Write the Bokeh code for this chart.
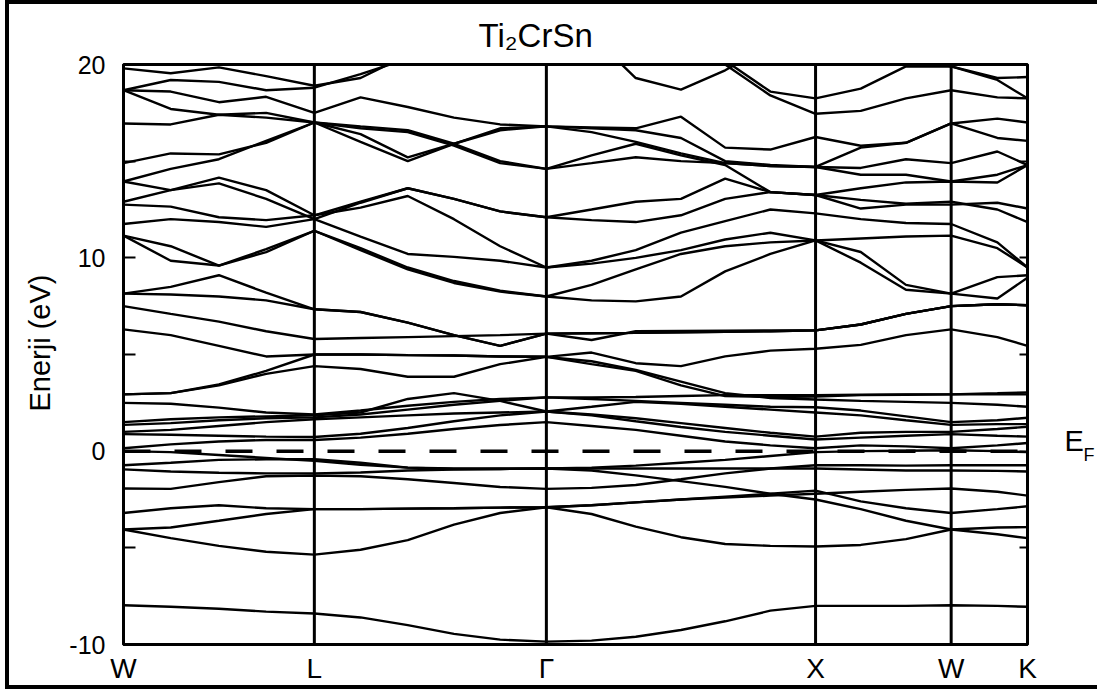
from bokeh.plotting import figure
from bokeh.models import Range1d, LinearAxis, FixedTicker, Span, Title
from bokeh.embed import file_html
from bokeh.resources import INLINE

# ---- k-path (distance units along W-L-G-X-W-K path) ----
k_path = [0, 47, 95, 142, 190, 236, 283, 329, 375, 421, 466, 510, 555, 599, 644, 689, 734, 779, 824, 870, 900]
sym_k = [0, 190, 421, 689, 824, 900]
sym_labels = ["W", "L", "Γ", "X", "W", "K"]
fermi_level = 0.0
y_ticks = [-10, 0, 10, 20]
y_minor = [-5, 5, 15]

# ---- band energies (eV) at each k_path point ----
band_b1 = [-7.97, -8.05, -8.15, -8.3, -8.4, -8.6, -9.0, -9.45, -9.75, -9.85, -9.8, -9.6, -9.25, -8.8, -8.25, -8.0, -8.0, -8.0, -7.97, -8.0, -8.05]
band_b2 = [-4.05, -4.5, -4.9, -5.2, -5.35, -5.1, -4.6, -3.8, -3.2, -2.9, -3.25, -3.9, -4.45, -4.8, -4.9, -4.93, -4.85, -4.55, -4.05, -4.3, -4.5]
band_b3 = [-4.05, -3.95, -3.6, -3.25, -3.0, -3.0, -2.97, -2.95, -2.92, -2.9, -2.8, -2.65, -2.5, -2.4, -2.3, -2.2, -2.1, -2.0, -1.93, -2.1, -2.3]
band_b4 = [-3.2, -2.95, -2.8, -2.95, -3.0, -3.0, -2.97, -2.95, -2.92, -2.9, -2.8, -2.65, -2.5, -2.35, -2.2, -2.04, -2.6, -2.95, -3.2, -3.0, -2.85]
band_b5 = [-1.93, -1.95, -1.6, -1.3, -1.26, -1.3, -1.45, -1.65, -1.85, -1.95, -1.9, -1.75, -1.45, -1.15, -0.9, -0.73, -0.73, -0.75, -0.73, -0.73, -0.73]
band_b6 = [-0.94, -1.05, -1.12, -1.15, -1.15, -1.1, -1.0, -0.95, -0.92, -0.9, -1.0, -1.25, -1.55, -1.85, -2.2, -2.5, -3.0, -3.6, -4.05, -3.95, -3.93]
band_b7 = [-0.73, -0.6, -0.45, -0.42, -0.42, -0.6, -0.85, -0.92, -0.92, -0.9, -0.9, -0.9, -0.9, -0.9, -0.9, -0.9, -0.95, -1.0, -1.0, -1.02, -1.05]
band_b8 = [0.0, -0.05, -0.2, -0.35, -0.5, -0.7, -0.85, -0.9, -0.9, -0.9, -0.85, -0.75, -0.6, -0.45, -0.25, -0.05, 0.0, 0.02, 0.05, 0.0, -0.05]

band_m1 = [0.15, 0.35, 0.5, 0.58, 0.58, 0.7, 0.9, 1.15, 1.35, 1.5, 1.3, 1.1, 0.8, 0.5, 0.3, 0.15, 0.3, 0.25, 0.15, 0.3, 0.42]
band_m2 = [0.88, 0.85, 0.8, 0.75, 0.73, 0.9, 1.2, 1.55, 1.85, 2.05, 1.85, 1.55, 1.25, 1.0, 0.8, 0.6, 0.7, 0.8, 0.88, 0.8, 0.75]
band_m3 = [1.0, 1.1, 1.3, 1.5, 1.65, 1.75, 1.85, 1.95, 2.0, 2.05, 1.9, 1.7, 1.45, 1.2, 0.95, 0.75, 0.95, 1.0, 1.0, 1.15, 1.26]
band_m4 = [1.36, 1.45, 1.6, 1.7, 1.75, 1.9, 2.15, 2.4, 2.6, 2.78, 2.78, 2.8, 2.85, 2.9, 2.9, 2.9, 2.92, 2.94, 2.94, 3.0, 3.04]
band_m5 = [1.5, 1.65, 1.75, 1.8, 1.85, 2.0, 2.7, 3.0, 2.6, 2.05, 2.3, 2.55, 2.45, 2.3, 2.15, 2.0, 1.85, 1.6, 1.36, 1.4, 1.4]
band_m6 = [2.5, 2.45, 2.25, 2.0, 1.9, 2.1, 2.35, 2.55, 2.7, 2.78, 2.7, 2.6, 2.5, 2.4, 2.3, 2.27, 2.1, 1.8, 1.5, 1.6, 1.73]
band_m7 = [2.94, 3.0, 3.4, 4.0, 4.4, 4.25, 3.85, 3.85, 4.5, 4.88, 4.65, 4.2, 3.6, 3.0, 2.75, 2.67, 2.6, 2.55, 2.5, 2.4, 2.3]
band_m8 = [2.94, 3.0, 3.45, 4.15, 5.0, 5.0, 4.97, 4.95, 4.9, 4.88, 4.5, 4.15, 3.4, 2.85, 2.8, 2.83, 2.9, 2.92, 2.94, 2.95, 2.94]

band_u1 = [6.3, 6.0, 5.45, 4.9, 5.0, 5.0, 4.97, 4.95, 4.9, 4.88, 5.1, 4.55, 4.4, 4.9, 5.2, 5.3, 5.5, 6.0, 6.3, 5.9, 5.45]
band_u2 = [7.5, 7.1, 6.7, 6.2, 5.8, 5.85, 5.9, 5.95, 6.0, 6.08, 6.1, 6.12, 6.15, 6.17, 6.2, 6.25, 6.55, 7.1, 7.5, 7.6, 7.55]
band_u3 = [8.15, 8.1, 8.0, 7.8, 7.34, 7.2, 6.65, 6.0, 5.45, 6.08, 5.75, 6.2, 6.22, 6.23, 6.24, 6.25, 6.55, 7.1, 7.5, 7.6, 7.55]
band_u4 = [8.15, 8.5, 9.1, 8.2, 7.34, 7.2, 6.65, 6.0, 5.45, 6.08, 6.1, 6.12, 6.15, 6.17, 6.2, 6.25, 6.55, 7.1, 7.5, 7.6, 7.55]
band_u5 = [11.15, 10.6, 9.6, 10.45, 11.4, 10.4, 9.4, 8.7, 8.25, 8.0, 8.6, 9.4, 10.2, 10.6, 10.8, 10.9, 10.3, 8.6, 8.15, 7.9, 8.97]
band_u6 = [11.15, 9.85, 9.6, 10.3, 11.4, 10.5, 9.5, 8.8, 8.3, 8.0, 7.8, 7.75, 8.0, 9.3, 10.2, 10.9, 9.75, 8.35, 8.15, 9.0, 9.1]

band_t0 = [22.0, 22.0, 22.2, 22.5, 23.0, 23.0, 23.0, 23.0, 23.0, 23.0, 21.5, 19.3, 18.7, 19.7, 21.0, 21.5, 21.0, 20.3, 19.9, 19.2, 18.25]
band_t1 = [19.8, 19.55, 19.85, 19.4, 18.9, 19.3, 20.5, 22.0, 22.5, 23.0, 22.5, 22.0, 21.5, 20.2, 18.6, 18.25, 18.75, 19.9, 19.9, 19.3, 19.35]
band_t2 = [18.67, 19.2, 19.1, 18.67, 18.8, 19.5, 20.3, 21.0, 21.5, 22.0, 21.5, 21.0, 20.5, 20.0, 18.4, 17.45, 17.6, 18.25, 18.67, 18.3, 18.25]
band_t3 = [18.67, 18.6, 18.05, 18.33, 17.5, 18.3, 17.8, 17.25, 16.9, 16.8, 16.75, 16.7, 17.3, 15.7, 15.6, 16.25, 15.8, 15.95, 16.95, 16.2, 16.05]
band_t4 = [18.67, 17.7, 17.4, 17.5, 17.0, 16.8, 16.6, 15.9, 15.0, 14.6, 15.3, 15.9, 15.3, 14.8, 13.4, 13.25, 13.6, 13.9, 13.95, 13.9, 14.8]
band_t5 = [16.95, 16.9, 17.4, 17.25, 17.0, 16.4, 15.2, 15.9, 16.6, 16.8, 16.7, 16.6, 16.2, 15.0, 14.8, 14.7, 15.7, 15.95, 16.95, 17.2, 17.0]
band_t6 = [14.9, 15.4, 15.35, 15.95, 17.0, 16.0, 15.0, 15.9, 16.7, 16.8, 16.5, 16.0, 15.4, 14.9, 14.75, 14.7, 14.65, 15.1, 14.9, 15.5, 14.8]
band_t7 = [13.95, 14.6, 15.1, 16.05, 17.0, 16.7, 16.5, 15.8, 14.9, 14.6, 14.9, 15.2, 15.0, 14.9, 14.75, 14.7, 14.3, 14.3, 13.95, 14.3, 14.8]
band_t8 = [13.95, 13.5, 14.15, 13.5, 12.2, 12.9, 13.6, 13.05, 12.4, 12.1, 12.5, 12.9, 13.05, 14.1, 13.4, 13.25, 12.55, 12.75, 12.75, 12.85, 12.55]
band_t9 = [12.9, 13.5, 13.85, 13.05, 12.0, 12.85, 13.6, 13.05, 12.4, 12.1, 11.95, 11.85, 12.2, 13.05, 13.4, 13.25, 13.0, 12.8, 12.9, 12.5, 11.85]
band_t10 = [12.75, 12.65, 12.1, 11.95, 12.2, 12.6, 13.2, 12.0, 10.6, 9.5, 9.85, 10.4, 11.3, 11.9, 12.5, 12.3, 12.0, 11.8, 11.75, 10.8, 9.5]
band_t11 = [11.75, 12.0, 11.85, 11.6, 12.0, 11.1, 10.2, 10.05, 9.85, 9.5, 9.7, 10.0, 10.4, 10.95, 11.3, 10.9, 11.0, 11.1, 11.15, 10.5, 9.5]

bands = [band_b1, band_b2, band_b3, band_b4, band_b5, band_b6, band_b7, band_b8,
         band_m1, band_m2, band_m3, band_m4, band_m5, band_m6, band_m7, band_m8,
         band_u1, band_u2, band_u3, band_u4, band_u5, band_u6,
         band_t0, band_t1, band_t2, band_t3, band_t4, band_t5, band_t6,
         band_t7, band_t8, band_t9, band_t10, band_t11]

FONT = "Liberation Sans"

p = figure(width=1092, height=689,
           x_range=Range1d(sym_k[0], sym_k[-1]), y_range=Range1d(y_ticks[0], y_ticks[-1]),
           output_backend="svg", toolbar_location=None, title=None,
           min_border_left=114, min_border_right=74,
           min_border_top=60, min_border_bottom=49)
p.styles = {"margin-left": "5px",
            "border-top": "4px solid black", "border-left": "4px solid black",
            "border-bottom": "4px solid black"}
p.grid.visible = False
p.outline_line_color = "black"
p.outline_line_width = 3
p.background_fill_color = "white"
p.border_fill_color = "white"

# title
p.add_layout(Title(text="Ti₂CrSn", align="left", offset=355, standoff=18,
                   vertical_align="top",
                   text_font=FONT, text_font_size="33px", text_font_style="normal",
                   text_color="black"), "above")

# bands
p.multi_line(xs=[k_path] * len(bands), ys=bands, line_color="black", line_width=2.4)

# high-symmetry vertical lines
for kk in sym_k[1:-1]:
    p.add_layout(Span(location=kk, dimension="height", line_color="black", line_width=3))

# Fermi level
p.add_layout(Span(location=fermi_level, dimension="width", line_color="black",
                  line_width=3.5, line_dash="27 24"))

# left axis
ya = p.yaxis[0]
ya.ticker = FixedTicker(ticks=y_ticks, minor_ticks=y_minor)
ya.major_label_overrides = {-10: "-10"}
ya.major_tick_in = 12
ya.major_tick_out = 0
ya.minor_tick_in = 12
ya.minor_tick_out = 0
ya.axis_line_width = 3
ya.major_tick_line_width = 2
ya.minor_tick_line_width = 2
ya.major_label_text_font = FONT
ya.major_label_text_font_size = "25px"
ya.major_label_text_color = "black"
ya.major_label_standoff = 18

# y-axis title, placed like the reference (slightly above centre)
p.add_layout(Title(text="Enerji (eV)", align="left", offset=233, standoff=22,
                   text_font=FONT, text_font_size="29px", text_font_style="normal",
                   text_color="black"), "left")

# right axis: inward ticks + "E" of E_F
e_pos = 0.55
f_pos = -0.2
ra = LinearAxis(ticker=FixedTicker(ticks=[e_pos], minor_ticks=y_ticks + y_minor),
                major_label_overrides={e_pos: "E"},
                major_tick_in=0, major_tick_out=0, major_tick_line_color=None,
                minor_tick_in=8, minor_tick_out=0, minor_tick_line_width=2,
                axis_line_width=3, major_label_standoff=37,
                major_label_text_font=FONT, major_label_text_font_size="29px",
                major_label_text_color="black")
p.add_layout(ra, "right")
# subscript "F"
rf = LinearAxis(ticker=FixedTicker(ticks=[f_pos], minor_ticks=[]),
                major_label_overrides={f_pos: "F"},
                major_tick_in=0, major_tick_out=0, major_tick_line_color=None,
                axis_line_color=None, major_label_standoff=-3,
                major_label_text_font=FONT, major_label_text_font_size="18px",
                major_label_text_color="black")
p.add_layout(rf, "right")

# bottom axis with symmetry labels
xa = p.xaxis[0]
xa.ticker = FixedTicker(ticks=sym_k)
xa.major_label_overrides = {kk: lab for kk, lab in zip(sym_k, sym_labels)}
xa.major_tick_in = 0
xa.major_tick_out = 0
xa.minor_tick_in = 0
xa.minor_tick_out = 0
xa.axis_line_width = 3
xa.major_label_text_font = FONT
xa.major_label_text_font_size = "28px"
xa.major_label_text_color = "black"
xa.major_label_standoff = 8

open("out.html", "w").write(file_html(p, INLINE))
